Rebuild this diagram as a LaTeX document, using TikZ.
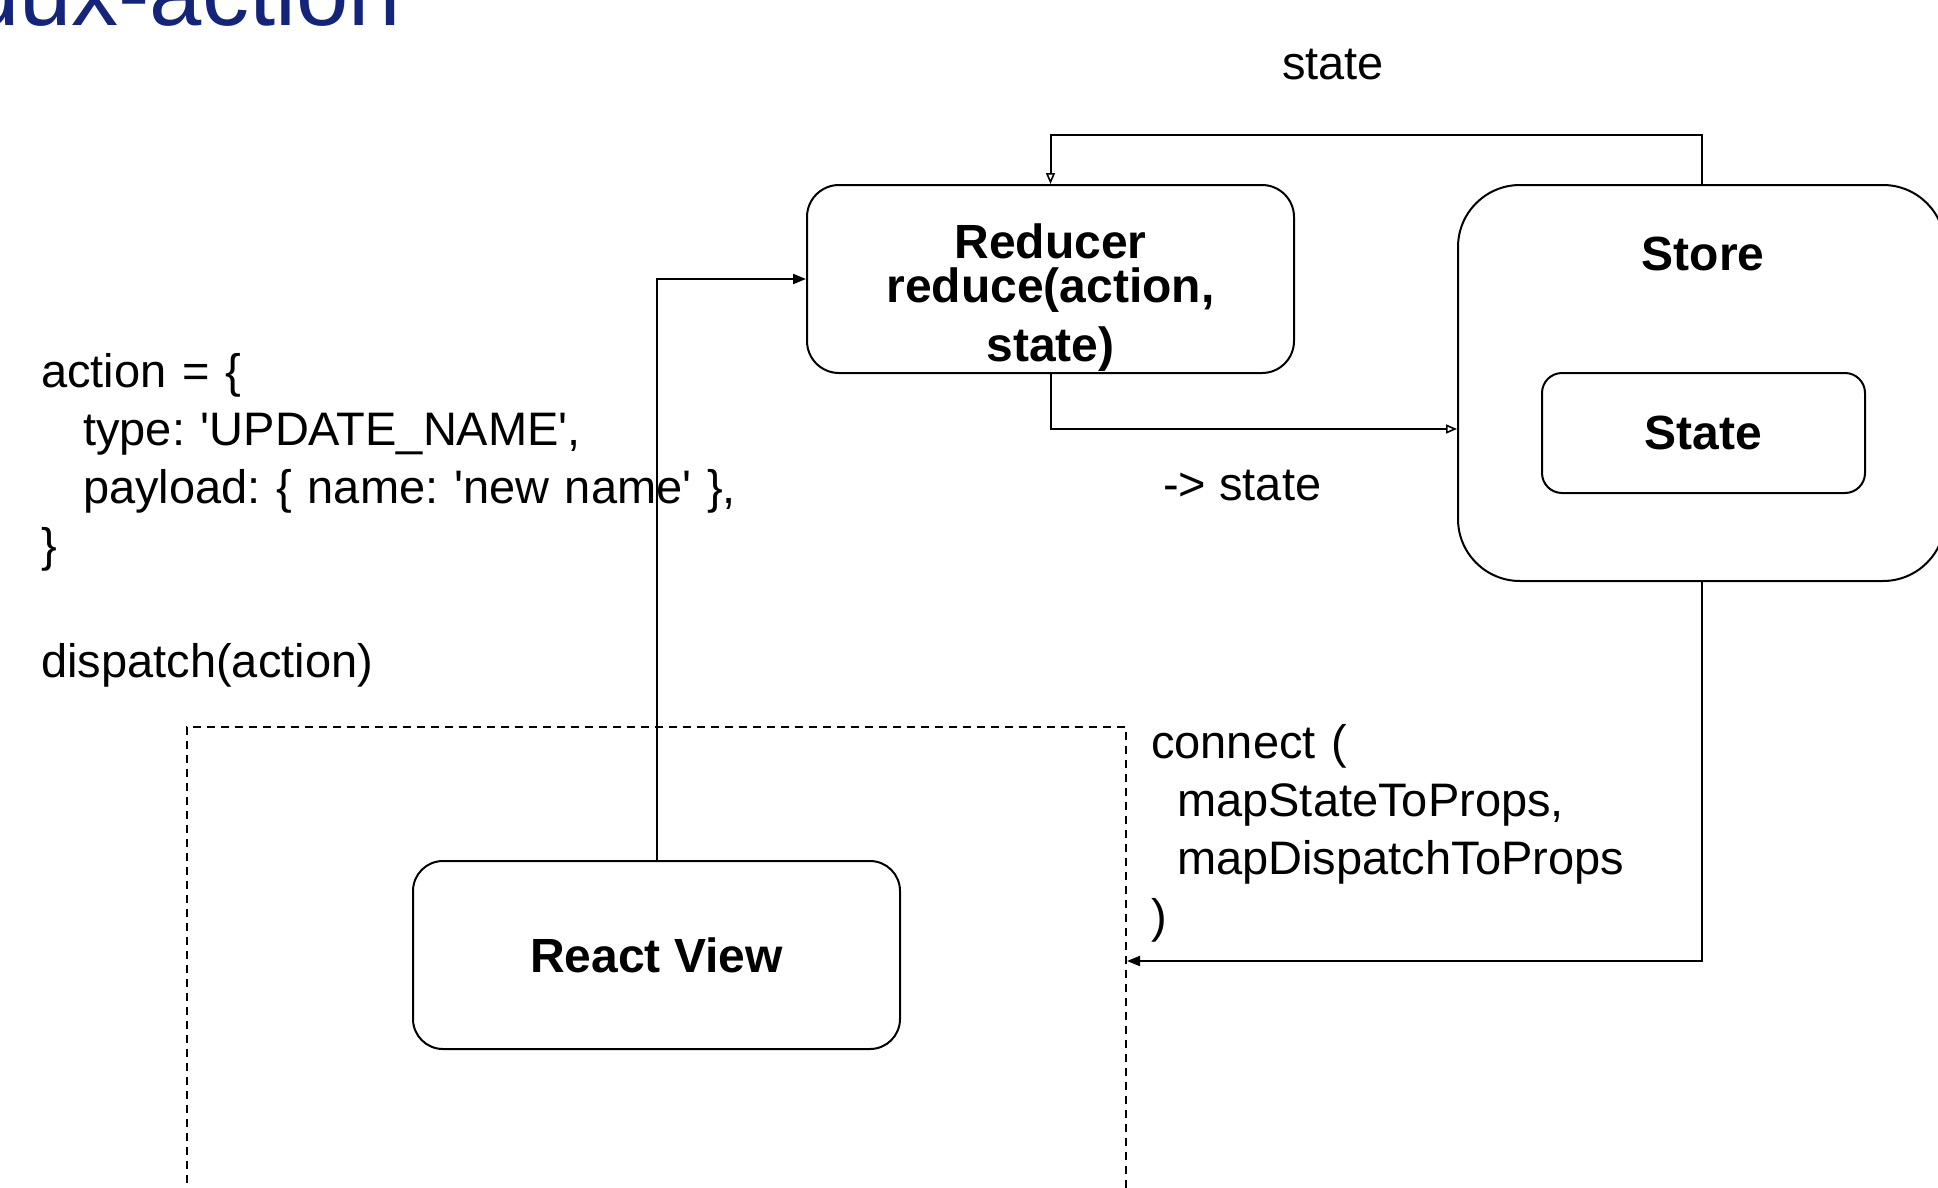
\documentclass[tikz,border=0pt]{standalone}
\usepackage{fontspec}
\setmainfont{Liberation Sans}[Ligatures=TeXOff]
\usetikzlibrary{arrows.meta}
\definecolor{titleblue}{RGB}{20,36,122}
\frenchspacing
\begin{document}
\begin{tikzpicture}[x=1pt,y=-1pt,
  box/.style={draw=black, line width=2pt, rounded corners=#1, inner sep=0pt,
    font=\fontsize{48}{56}\selectfont\bfseries},
  box/.default=30pt,
  conn/.style={line width=2pt},
  opentip/.style={-{Triangle[open,length=11pt,width=9pt,line width=1.6pt]}},
  filltip/.style={-{Triangle[length=13pt,width=10pt]}},
  code/.style={inner sep=0pt, font=\fontsize{47}{58}\selectfont\frenchspacing, align=left},
  lbl/.style={inner sep=0pt, font=\fontsize{47}{58}\selectfont},
  boldlbl/.style={inner sep=0pt, font=\fontsize{48}{44}\selectfont\bfseries},
  viewframe/.style={draw=black, line width=2pt, dash pattern=on 8pt off 6pt, inner sep=0pt},
]
\useasboundingbox (0,0) rectangle (1938,1188);
\fill[white] (0,0) rectangle (1938,1188);
\clip (0,0) rectangle (1938,1188);

% title (cut by the frame)
\node[anchor=base east, inner sep=0pt, text=titleblue,
  font=\fontsize{94}{100}\selectfont] (title) at (401,26) {redux-action};

% boxes
\node[box=32pt, minimum width=487pt, minimum height=188pt] (reducer) at (1050.5,279) {};
\node[boldlbl, text width=480pt, align=center, anchor=base] (reducerlabel) at (1050.5,258)
  {Reducer\\reduce(action,\\[14pt]state)};

\node[box=62pt, minimum width=487pt, minimum height=396pt] (store) at (1701.5,383) {};
\node[boldlbl, anchor=base] (storelabel) at (1703,270) {Store};
\node[box=20pt, minimum width=323pt, minimum height=120pt] (statebox) at (1703.5,433) {State};

\node[viewframe, minimum width=939pt, minimum height=600pt] (viewbox) at (656.5,1027) {};
\node[box=30pt, minimum width=487pt, minimum height=188pt] (react) at (656.5,955) {React View};

% texts
\node[code, text width=900pt, anchor=base west] (actioncode) at (41,387)
  {action = \{\\\hspace*{42pt}type: 'UPDATE\_NAME',\\\hspace*{42pt}payload: \{ name: 'new name' \},\\\}\\[58pt]dispatch(action)};
\node[code, text width=700pt, anchor=base west] (connectcode) at (1151,758)
  {connect (\\\hspace*{26pt}mapStateToProps,\\\hspace*{26pt}mapDispatchToProps\\)};
\node[lbl, anchor=base] (statetop) at (1333,80) {state};
\node[lbl, anchor=base west] (arrowstate) at (1163,500) {-> state};

% connectors
\coordinate (ytop) at (0,135);
\coordinate (ymid) at (0,429);
\coordinate (ylow) at (0,961);
\draw[conn, opentip] (store.north) -- (store.north |- ytop) -| (reducer.north);
\draw[conn, opentip] (reducer.south) |- (store.west |- ymid);
\draw[conn, filltip] (react.north) |- (reducer.west);
\draw[conn, filltip] (store.south) |- (viewbox.east |- ylow);
\end{tikzpicture}
\end{document}
